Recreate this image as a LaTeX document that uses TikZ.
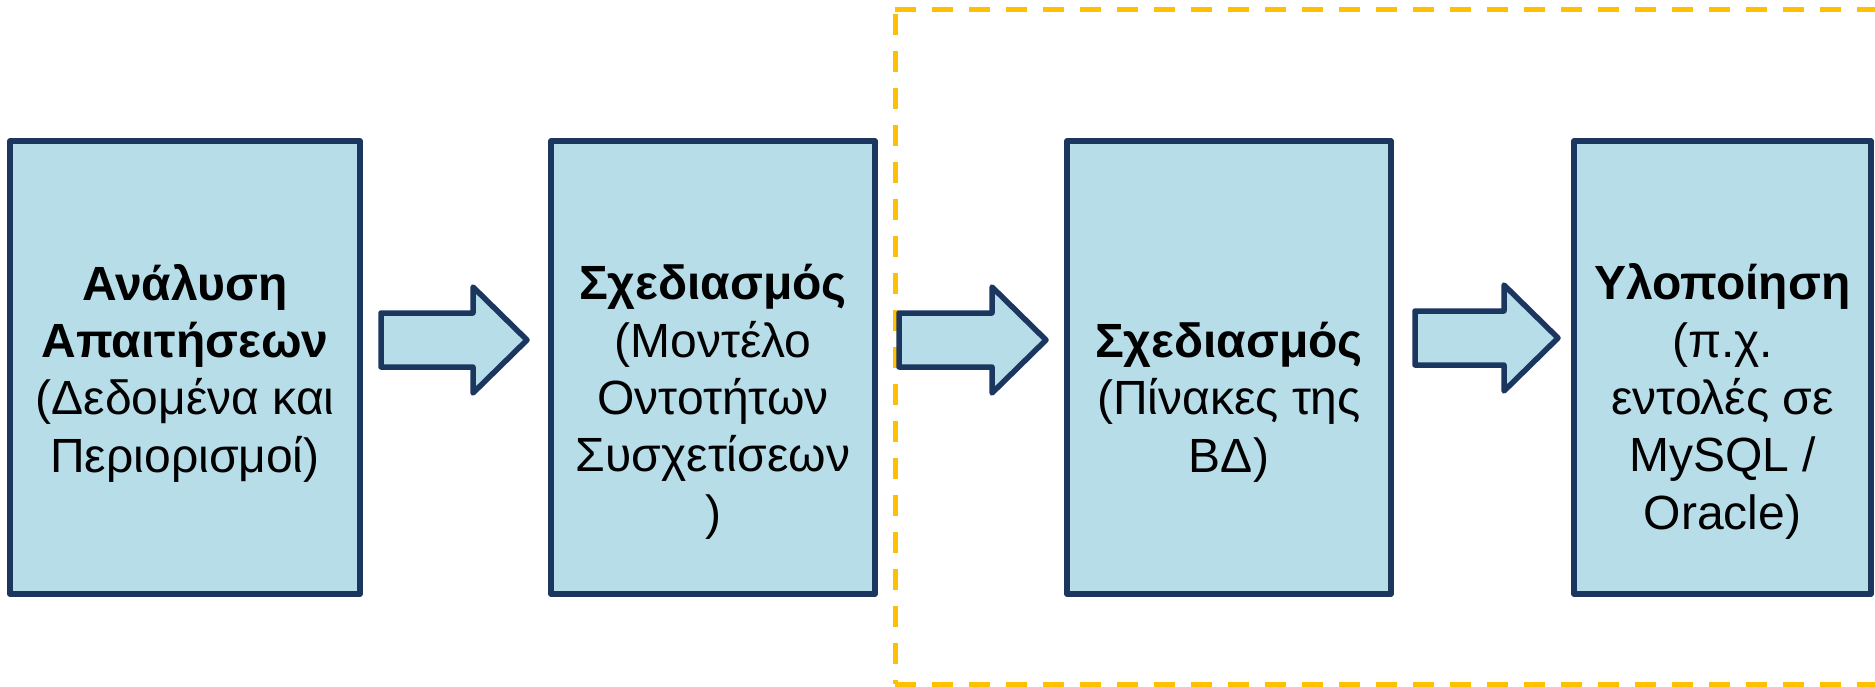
\documentclass[tikz,border=0pt]{standalone}
\usepackage{fontspec}
\setmainfont{Liberation Sans}
\definecolor{boxfill}{HTML}{B7DDE8}
\definecolor{boxline}{HTML}{1B365F}
\definecolor{dashyellow}{HTML}{FFC000}
\begin{document}
\begin{tikzpicture}[x=1pt,y=-1pt,
  stagebox/.style={draw=boxline,fill=boxfill,line width=5.5pt,rectangle,inner sep=0pt,line join=round},
  blockarrow/.style={draw=boxline,fill=boxfill,line width=5.5pt,line join=round},
  stagetext/.style={align=center,font=\fontsize{48}{57.3}\selectfont,inner sep=0pt,anchor=base},
  frame/.style={draw=dashyellow,line width=5pt,dash pattern=on 21pt off 16pt}]
\useasboundingbox (0,0) rectangle (1875,686);
\clip (0,0) rectangle (1875,686);
% dashed frame
\coordinate (ftl) at (895,9);
\coordinate (fbl) at (895,684);
\draw[frame] (ftl) -- (1900,9);
\draw[frame] (895,14) -- (fbl);
\draw[frame] (fbl) -- (1900,684);
% boxes
\node[stagebox,minimum width=350pt,minimum height=453pt] (b1) at (185,367.5) {};
\node[stagebox,minimum width=324pt,minimum height=453pt] (b2) at (713,367.5) {};
\node[stagebox,minimum width=324pt,minimum height=453pt] (b3) at (1229,367.5) {};
\node[stagebox,minimum width=297pt,minimum height=453pt] (b4) at (1722.5,367.5) {};
% texts (anchored at the baseline of their last line)
\node[stagetext] (t1) at (185,472) {\textbf{Ανάλυση}\\\textbf{Απαιτήσεων}\\(Δεδομένα και\\Περιορισμοί)};
\node[stagetext] (t2) at (713,529) {\textbf{Σχεδιασμός}\\(Μοντέλο\\Οντοτήτων\\Συσχετίσεων\\)};
\node[stagetext] (t3) at (1229,472) {\textbf{Σχεδιασμός}\\(Πίνακες της\\ΒΔ)};
\node[stagetext] (t4) at (1722.5,529) {\textbf{Υλοποίηση}\\(π.χ.\\εντολές σε\\MySQL /\\Oracle)};
% block arrows
\draw[blockarrow] (381,313) -- (473,313) -- (473,287) -- (527,340) -- (473,393) -- (473,367) -- (381,367) -- cycle;
\draw[blockarrow] (899,313) -- (992,313) -- (992,287) -- (1046,340) -- (992,393) -- (992,367) -- (899,367) -- cycle;
\draw[blockarrow] (1415,311) -- (1504,311) -- (1504,285) -- (1558,338) -- (1504,391) -- (1504,365) -- (1415,365) -- cycle;
\end{tikzpicture}
\end{document}
